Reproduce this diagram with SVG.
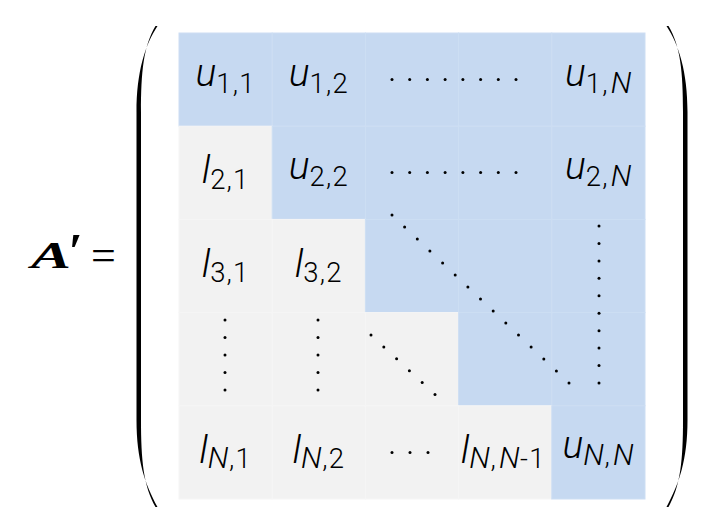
<svg xmlns="http://www.w3.org/2000/svg" width="720" height="527" viewBox="0 0 720 527">
<style>
.b{fill:#c6d9f1;stroke:#cddef3;stroke-width:1}
.g{fill:#f2f2f2;stroke:#f6f6f6;stroke-width:1}
.t{font-family:Roboto,"Liberation Sans",sans-serif;font-weight:300;font-size:39px;fill:#000;text-anchor:middle}
.i{font-style:italic}
.s{font-size:27.5px;letter-spacing:1.2px}
.n{font-size:30px;font-style:italic;letter-spacing:0.5px}
.d{fill:#000}
.eq{font-family:"Liberation Serif",serif;fill:#000}
</style>
<rect width="720" height="527" fill="#fff"/>
<g id="label">
<text class="eq" x="31" y="268" font-size="38" font-weight="bold" font-style="italic" textLength="40" lengthAdjust="spacingAndGlyphs">A</text>
<text class="eq" x="68" y="268" font-size="50" font-weight="bold" font-style="italic">′</text>
<text class="eq" x="91" y="270" font-size="44">=</text>
</g>
<g id="paren-left">
<path d="M157.5,26 C145,45 136.5,72 136.5,112 L136.5,420 C136.5,460 145,484 157.5,507 L155.5,507 C143.5,486 141,460 141,420 L141,112 C141,72 143.5,46 155.5,26 Z" fill="#000"/>
</g>
<g id="paren-right">
<path d="M666.5,26 C679,45 687.5,72 687.5,112 L687.5,420 C687.5,460 679,484 666.5,507 L668.5,507 C680.5,486 683,460 683,420 L683,112 C683,72 680.5,46 668.5,26 Z" fill="#000"/>
</g>
<g id="r1c1"><rect class="b" x="179" y="33" width="93.2" height="93.2"/><text class="t" x="225.6" y="85.6"><tspan class="i">u</tspan><tspan class="s" dy="7">1,1</tspan></text></g>
<g id="r1c2"><rect class="b" x="272.2" y="33" width="93.2" height="93.2"/><text class="t" x="318.8" y="85.6"><tspan class="i">u</tspan><tspan class="s" dy="7">1,2</tspan></text></g>
<g id="r1c3"><rect class="b" x="365.4" y="33" width="93.2" height="93.2"/></g>
<g id="r1c4"><rect class="b" x="458.6" y="33" width="93.2" height="93.2"/></g>
<g id="r1c5"><rect class="b" x="551.8" y="33" width="93.2" height="93.2"/><text class="t" x="598.4" y="85.6"><tspan class="i">u</tspan><tspan class="s" dy="7">1,</tspan><tspan class="n" dx="2">N</tspan></text></g>

<g id="r2c1"><rect class="g" x="179" y="126.2" width="93.2" height="93.2"/><text class="t" x="225.6" y="183.3"><tspan class="i">l</tspan><tspan class="s" dy="5.5">2,1</tspan></text></g>
<g id="r2c2"><rect class="b" x="272.2" y="126.2" width="93.2" height="93.2"/><text class="t" x="318.8" y="178.8"><tspan class="i">u</tspan><tspan class="s" dy="7">2,2</tspan></text></g>
<g id="r2c3"><rect class="b" x="365.4" y="126.2" width="93.2" height="93.2"/></g>
<g id="r2c4"><rect class="b" x="458.6" y="126.2" width="93.2" height="93.2"/></g>
<g id="r2c5"><rect class="b" x="551.8" y="126.2" width="93.2" height="93.2"/><text class="t" x="598.4" y="178.8"><tspan class="i">u</tspan><tspan class="s" dy="7">2,</tspan><tspan class="n" dx="2">N</tspan></text></g>

<g id="r3c1"><rect class="g" x="179" y="219.4" width="93.2" height="93.2"/><text class="t" x="225.6" y="276.5"><tspan class="i">l</tspan><tspan class="s" dy="5.5">3,1</tspan></text></g>
<g id="r3c2"><rect class="g" x="272.2" y="219.4" width="93.2" height="93.2"/><text class="t" x="318.8" y="276.5"><tspan class="i">l</tspan><tspan class="s" dy="5.5">3,2</tspan></text></g>
<g id="r3c3"><rect class="b" x="365.4" y="219.4" width="93.2" height="93.2"/></g>
<g id="r3c4"><rect class="b" x="458.6" y="219.4" width="93.2" height="93.2"/></g>
<g id="r3c5"><rect class="b" x="551.8" y="219.4" width="93.2" height="93.2"/></g>

<g id="r4c1"><rect class="g" x="179" y="312.6" width="93.2" height="93.2"/></g>
<g id="r4c2"><rect class="g" x="272.2" y="312.6" width="93.2" height="93.2"/></g>
<g id="r4c3"><rect class="g" x="365.4" y="312.6" width="93.2" height="93.2"/></g>
<g id="r4c4"><rect class="b" x="458.6" y="312.6" width="93.2" height="93.2"/></g>
<g id="r4c5"><rect class="b" x="551.8" y="312.6" width="93.2" height="93.2"/></g>

<g id="r5c1"><rect class="g" x="179" y="405.8" width="93.2" height="93.2"/><text class="t" x="225.6" y="462.9"><tspan class="i">l</tspan><tspan class="n" dy="5.5">N</tspan><tspan class="s">,1</tspan></text></g>
<g id="r5c2"><rect class="g" x="272.2" y="405.8" width="93.2" height="93.2"/><text class="t" x="318.8" y="462.9"><tspan class="i">l</tspan><tspan class="n" dy="5.5">N</tspan><tspan class="s">,2</tspan></text></g>
<g id="r5c3"><rect class="g" x="365.4" y="405.8" width="93.2" height="93.2"/></g>
<g id="r5c4"><rect class="g" x="458.6" y="405.8" width="93.2" height="93.2"/><text class="t" x="503.2" y="462.9"><tspan class="i">l</tspan><tspan class="n" dy="5.5">N</tspan><tspan class="s">,</tspan><tspan class="n" dx="2">N</tspan><tspan class="s">-1</tspan></text></g>
<g id="r5c5"><rect class="b" x="551.8" y="405.8" width="93.2" height="93.2"/><text class="t" x="598.4" y="458.4"><tspan class="i">u</tspan><tspan class="n" dy="7">N</tspan><tspan class="s">,</tspan><tspan class="n" dx="2">N</tspan></text></g>

<g id="dots" class="d">
<circle cx="392" cy="79.5" r="1.5"/><circle cx="409.7" cy="79.5" r="1.5"/><circle cx="427.4" cy="79.5" r="1.5"/><circle cx="445.1" cy="79.5" r="1.5"/><circle cx="462.9" cy="79.5" r="1.5"/><circle cx="480.6" cy="79.5" r="1.5"/><circle cx="498.3" cy="79.5" r="1.5"/><circle cx="516" cy="79.5" r="1.5"/>
<circle cx="392" cy="172.5" r="1.5"/><circle cx="409.7" cy="172.5" r="1.5"/><circle cx="427.4" cy="172.5" r="1.5"/><circle cx="445.1" cy="172.5" r="1.5"/><circle cx="462.9" cy="172.5" r="1.5"/><circle cx="480.6" cy="172.5" r="1.5"/><circle cx="498.3" cy="172.5" r="1.5"/><circle cx="516" cy="172.5" r="1.5"/>
<circle cx="392" cy="215" r="1.5"/><circle cx="404.6" cy="227" r="1.5"/><circle cx="417.3" cy="239" r="1.5"/><circle cx="429.9" cy="251" r="1.5"/><circle cx="442.6" cy="263" r="1.5"/><circle cx="455.2" cy="275" r="1.5"/><circle cx="467.9" cy="287" r="1.5"/><circle cx="480.5" cy="299" r="1.5"/><circle cx="493.2" cy="311" r="1.5"/><circle cx="505.8" cy="323" r="1.5"/><circle cx="518.5" cy="335" r="1.5"/><circle cx="531.1" cy="347" r="1.5"/><circle cx="543.8" cy="359" r="1.5"/><circle cx="556.4" cy="371" r="1.5"/><circle cx="569" cy="383" r="1.5"/>
<circle cx="599" cy="226" r="1.5"/><circle cx="599" cy="243.4" r="1.5"/><circle cx="599" cy="260.9" r="1.5"/><circle cx="599" cy="278.3" r="1.5"/><circle cx="599" cy="295.8" r="1.5"/><circle cx="599" cy="313.2" r="1.5"/><circle cx="599" cy="330.7" r="1.5"/><circle cx="599" cy="348.1" r="1.5"/><circle cx="599" cy="365.6" r="1.5"/><circle cx="599" cy="383" r="1.5"/>
<circle cx="225" cy="320" r="1.5"/><circle cx="225" cy="337.5" r="1.5"/><circle cx="225" cy="355" r="1.5"/><circle cx="225" cy="372.5" r="1.5"/><circle cx="225" cy="390" r="1.5"/>
<circle cx="318" cy="320" r="1.5"/><circle cx="318" cy="337.5" r="1.5"/><circle cx="318" cy="355" r="1.5"/><circle cx="318" cy="372.5" r="1.5"/><circle cx="318" cy="390" r="1.5"/>
<circle cx="371" cy="335" r="1.5"/><circle cx="383.8" cy="346.9" r="1.5"/><circle cx="396.6" cy="358.8" r="1.5"/><circle cx="409.4" cy="370.7" r="1.5"/><circle cx="422.2" cy="382.6" r="1.5"/><circle cx="435" cy="394.5" r="1.5"/>
<circle cx="392" cy="452.5" r="1.5"/><circle cx="410" cy="452.5" r="1.5"/><circle cx="428" cy="452.5" r="1.5"/>
</g>
</svg>
